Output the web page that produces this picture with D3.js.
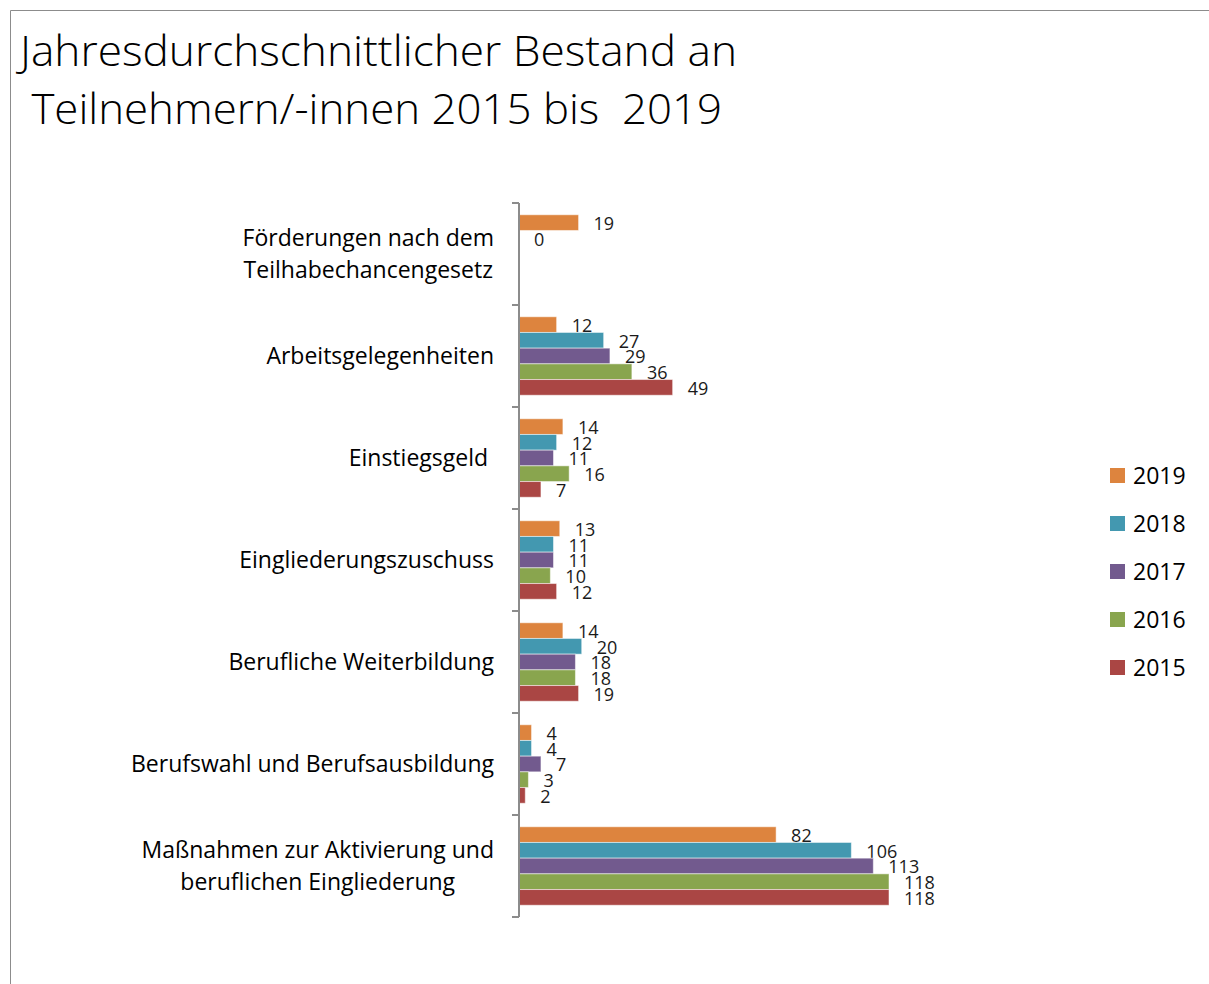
<!DOCTYPE html>
<html>
<head>
<meta charset="utf-8">
<script src="https://cdn.jsdelivr.net/npm/d3@7"></script>
<style>
  body { margin: 0; background: #fff; }
  svg { display: block; font-family: "Open Sans", Roboto, sans-serif; }
</style>
</head>
<body>
<div id="chart"></div>
<script>
// values
const categories = [
  ["Förderungen nach dem", "Teilhabechancengesetz"],
  ["Arbeitsgelegenheiten"],
  ["Einstiegsgeld "],
  ["Eingliederungszuschuss"],
  ["Berufliche Weiterbildung"],
  ["Berufswahl und Berufsausbildung"],
  ["Maßnahmen zur Aktivierung und", "beruflichen Eingliederung"]
];
const years = ["2019", "2018", "2017", "2016", "2015"];
const colors = ["#DD843E", "#4398B0", "#725A8E", "#89A54E", "#AA4644"];
const v2019 = [19, 12, 14, 13, 14, 4, 82];
const v2018 = [0, 27, 12, 11, 20, 4, 106];
const v2017 = [null, 29, 11, 11, 18, 7, 113];
const v2016 = [null, 36, 16, 10, 18, 3, 118];
const v2015 = [null, 49, 7, 12, 19, 2, 118];
const series = [v2019, v2018, v2017, v2016, v2015];
const titleLines = ["Jahresdurchschnittlicher Bestand an", " Teilnehmern/-innen 2015 bis  2019"];

const width = 1209, height = 984;
const margin = {top: 203, left: 519, bottom: 67};

const svg = d3.select("#chart").append("svg")
  .attr("width", width)
  .attr("height", height);

// outer frame (only top and left edges are visible)
svg.append("path")
  .attr("d", `M10.5,${height}V10.5H${width}`)
  .attr("fill", "none")
  .attr("stroke", "#8c8c8c")
  .attr("stroke-width", 1);

// title
svg.append("g")
  .selectAll("text")
  .data(titleLines)
  .join("text")
    .attr("x", 20)
    .attr("y", (d, i) => 66 + i * 58)
    .attr("font-size", 43)
    .attr("font-weight", 300)
    .attr("fill", "#000")
    .attr("textLength", (d, i) => i === 0 ? 717 : 702)
    .attr("lengthAdjust", "spacingAndGlyphs")
    .style("white-space", "pre")
    .text(d => d);

const idx = d3.range(categories.length);

const y0 = d3.scaleBand()
  .domain(idx)
  .range([margin.top, height - margin.bottom]);

const y1 = d3.scaleBand()
  .domain(years)
  .range([0, y0.bandwidth()])
  .paddingOuter(0.75);

const x = d3.scaleLinear()
  .domain([0, 118])
  .range([margin.left, 889]);

// bars
const groups = svg.append("g")
  .selectAll("g")
  .data(series)
  .join("g")
    .attr("fill", (d, i) => colors[i]);

groups.selectAll("rect")
  .data((d, si) => d.map((v, ci) => ({v, ci, year: years[si]})).filter(d => d.v !== null))
  .join("rect")
    .attr("x", x(0))
    .attr("y", d => y0(d.ci) + y1(d.year))
    .attr("width", d => x(d.v) - x(0))
    .attr("height", y1.bandwidth())
    .attr("stroke", "#fff")
    .attr("stroke-opacity", 0.5)
    .attr("stroke-width", 1);

// value labels
groups.selectAll("text")
  .data((d, si) => d.map((v, ci) => ({v, ci, year: years[si]})).filter(d => d.v !== null))
  .join("text")
    .attr("x", d => x(d.v) + 15)
    .attr("y", d => y0(d.ci) + y1(d.year) + y1.bandwidth() / 2 + 1)
    .attr("dy", "0.35em")
    .attr("fill", "#1a1a1a")
    .attr("font-size", 18)
    .text(d => d.v);

// category axis
const axis = svg.append("g");
axis.append("line")
  .attr("x1", x(0)).attr("x2", x(0))
  .attr("y1", y0.range()[0]).attr("y2", y0.range()[1])
  .attr("stroke", "#8c8c8c")
  .attr("stroke-width", 2);
axis.selectAll("line.tick")
  .data(d3.range(categories.length + 1))
  .join("line")
    .attr("class", "tick")
    .attr("x1", x(0) - 7).attr("x2", x(0))
    .attr("y1", i => margin.top + i * y0.step())
    .attr("y2", i => margin.top + i * y0.step())
    .attr("stroke", "#8c8c8c")
    .attr("stroke-width", 2);

// category labels: block right-aligned, lines centred within it
const labels = axis.selectAll("g.label")
  .data(categories)
  .join("g")
    .attr("class", "label");

labels.each(function(lines, ci) {
  const g = d3.select(this);
  const t = g.selectAll("text")
    .data(lines)
    .join("text")
      .attr("font-size", 23)
      .attr("fill", "#000")
      .attr("text-anchor", "middle")
      .attr("dy", "0.35em")
      .style("white-space", "pre")
      .attr("y", (d, i) => y0(ci) + y0.bandwidth() / 2 + (i - (lines.length - 1) / 2) * 32)
      .text(d => d);
  const w = d3.max(t.nodes(), n => n.getComputedTextLength());
  t.attr("x", 494 - w / 2);
});

// legend
const legend = svg.append("g")
  .selectAll("g")
  .data(years)
  .join("g")
    .attr("transform", (d, i) => `translate(1110,${468 + i * 48})`);

legend.append("rect")
  .attr("width", 15)
  .attr("height", 15)
  .attr("fill", (d, i) => colors[i]);

legend.append("text")
  .attr("x", 23)
  .attr("y", 8)
  .attr("dy", "0.35em")
  .attr("font-size", 23)
  .attr("fill", "#000")
  .text(d => d);
</script>
</body>
</html>
